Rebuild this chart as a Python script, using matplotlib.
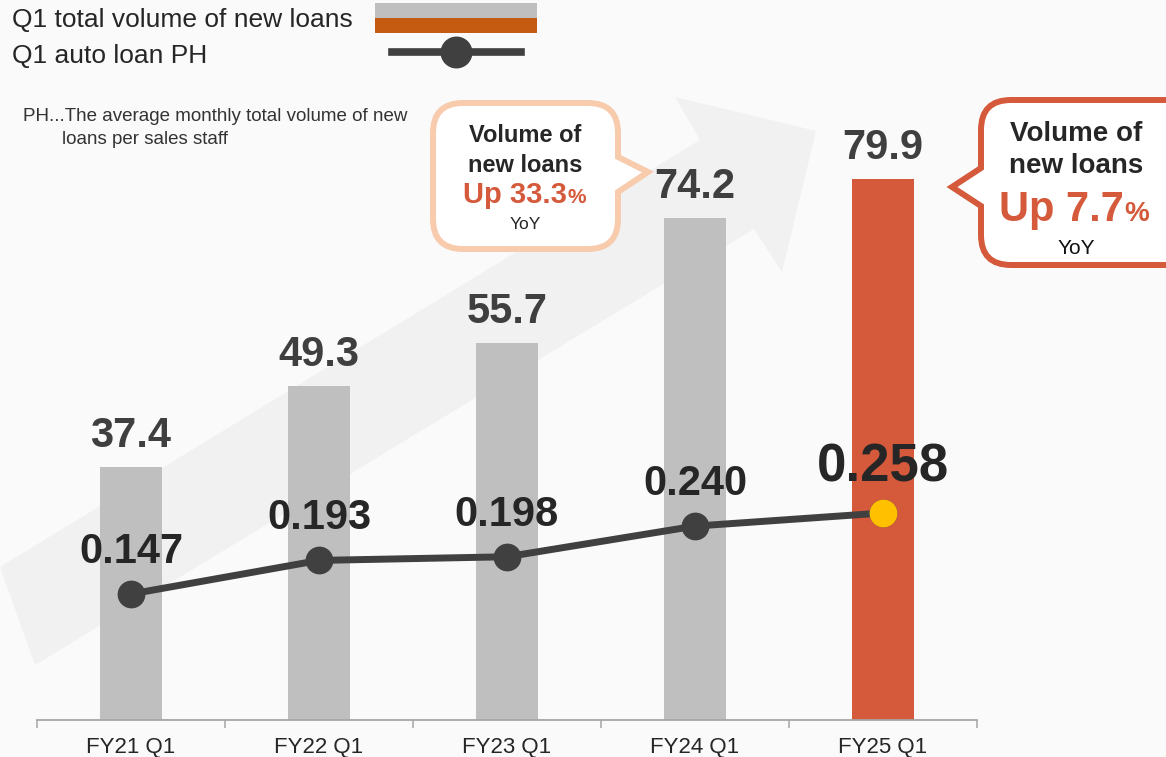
import numpy as np
import matplotlib
matplotlib.use("Agg")
import matplotlib.pyplot as plt
import matplotlib.transforms as mtransforms
from matplotlib.path import Path
from matplotlib.patches import PathPatch, Polygon, Rectangle
from matplotlib.lines import Line2D

plt.rcParams['font.family'] = ['Liberation Sans', 'DejaVu Sans']

# data
categories = ["FY21 Q1", "FY22 Q1", "FY23 Q1", "FY24 Q1", "FY25 Q1"]
loan_volume = [37.4, 49.3, 55.7, 74.2, 79.9]
volume_labels = ["37.4", "49.3", "55.7", "74.2", "79.9"]
auto_loan_ph = [0.147, 0.193, 0.198, 0.240, 0.258]
ph_labels = ["0.147", "0.193", "0.198", "0.240", "0.258"]

# styles
bar_colors = ["#bfbfbf"] * 4 + ["#d5593b"]
ph_label_sizes = [30, 30, 30, 30, 38]
dark = "#262626"

W, H = 1166, 757
fig = plt.figure(figsize=(W / 100, H / 100), dpi=100, facecolor="#fafafa")
# pixel coordinates, origin at top-left
pix = mtransforms.Affine2D().scale(1 / W, -1 / H).translate(0, 1) + fig.transFigure

# big light arrow in the background
arrow_pts = [(0, 567), (700, 140), (675, 97), (816, 131), (782, 272), (754, 229), (35, 665)]
fig.add_artist(Polygon(arrow_pts, closed=True, transform=pix, facecolor="#f1f1f1",
                       edgecolor="none", zorder=0))

x = np.arange(len(categories))

ax = fig.add_axes([37 / W, 37 / H, 940 / W, 720 / H])
ax.set_zorder(1)
ax.patch.set_visible(False)
ax.bar(x, loan_volume, width=0.33, color=bar_colors, zorder=2)
ax.set_xlim(-0.5, 4.5)
ax.set_ylim(0, 720 / 6.77)
for i, v in enumerate(loan_volume):
    ax.annotate(volume_labels[i], (i, v), xytext=(0, 14.5), textcoords="offset points",
                ha="center", va="baseline", fontsize=30, fontweight="bold", color="#3f3f3f")

for s in ["top", "left", "right"]:
    ax.spines[s].set_visible(False)
ax.spines["bottom"].set_color("#a6a6a6")
ax.spines["bottom"].set_linewidth(1.3)
ax.set_yticks([])
ax.set_xticks(np.arange(-0.5, 5, 1.0))
ax.set_xticklabels([])
ax.tick_params(axis="x", which="major", length=6, width=1.1, color="#a6a6a6")
ax.set_xticks(x, minor=True)
ax.set_xticklabels(categories, minor=True, fontsize=16, color=dark)
ax.tick_params(axis="x", which="minor", length=0, pad=12)

ax2 = ax.twinx()
ax2.set_zorder(2)
ax2.patch.set_visible(False)
ax2.plot(x, auto_loan_ph, color="#404040", lw=5, marker="o", ms=19,
         mfc="#404040", mec="#404040", zorder=3)
ax2.plot(x[-1:], auto_loan_ph[-1:], "o", ms=19, mfc="#ffc000", mec="#ffc000", zorder=4)
ax2.set_ylim(-0.0257, 0.961)
ax2.axis("off")
for i, v in enumerate(auto_loan_ph):
    ax2.annotate(ph_labels[i], (i, v), xytext=(0, 22.5), textcoords="offset points",
                 ha="center", va="baseline", fontsize=ph_label_sizes[i],
                 fontweight="bold", color=dark, zorder=5)


def callout(x0, y0, x1, y1, r, side, b1, b2, tip):
    verts = [(x0 + r, y0), (x1 - r, y0), (x1, y0), (x1, y0 + r)]
    codes = [Path.MOVETO, Path.LINETO, Path.CURVE3, Path.CURVE3]
    if side == "right":
        verts += [(x1, b1), tip, (x1, b2)]
        codes += [Path.LINETO] * 3
    verts += [(x1, y1 - r), (x1, y1), (x1 - r, y1), (x0 + r, y1), (x0, y1), (x0, y1 - r)]
    codes += [Path.LINETO, Path.CURVE3, Path.CURVE3, Path.LINETO, Path.CURVE3, Path.CURVE3]
    if side == "left":
        verts += [(x0, b2), tip, (x0, b1)]
        codes += [Path.LINETO] * 3
    verts += [(x0, y0 + r), (x0, y0), (x0 + r, y0), (x0 + r, y0)]
    codes += [Path.LINETO, Path.CURVE3, Path.CURVE3, Path.CLOSEPOLY]
    return Path(verts, codes)


fig.add_artist(PathPatch(callout(433, 103, 618, 249, 30, "right", 157, 192, (648, 172)),
                         transform=pix, facecolor="white", edgecolor="#f8cbad", lw=4.3,
                         joinstyle="miter", zorder=5))
fig.add_artist(PathPatch(callout(981, 100, 1200, 265, 30, "left", 168, 206, (952, 187)),
                         transform=pix, facecolor="white", edgecolor="#d5593b", lw=4.3,
                         joinstyle="miter", zorder=5))

red = "#d5593b"
# left callout text
fig.text(525, 142, "Volume of", transform=pix, ha="center", va="baseline", fontsize=17,
         fontweight="bold", color=dark, zorder=6)
fig.text(525, 172, "new loans", transform=pix, ha="center", va="baseline", fontsize=17,
         fontweight="bold", color=dark, zorder=6)
fig.text(567, 203, "Up 33.3", transform=pix, ha="right", va="baseline", fontsize=21,
         fontweight="bold", color=red, zorder=6)
fig.text(567, 203, "%", transform=pix, ha="left", va="baseline", fontsize=15,
         fontweight="bold", color=red, zorder=6)
fig.text(525, 229, "YoY", transform=pix, ha="center", va="baseline", fontsize=12.5,
         color=dark, zorder=6)
# right callout text
fig.text(1076, 141, "Volume of", transform=pix, ha="center", va="baseline", fontsize=20,
         fontweight="bold", color=dark, zorder=6)
fig.text(1076, 173, "new loans", transform=pix, ha="center", va="baseline", fontsize=20,
         fontweight="bold", color=dark, zorder=6)
fig.text(1124, 221, "Up 7.7", transform=pix, ha="right", va="baseline", fontsize=30,
         fontweight="bold", color=red, zorder=6)
fig.text(1124, 221, "%", transform=pix, ha="left", va="baseline", fontsize=20,
         fontweight="bold", color=red, zorder=6)
fig.text(1076, 254, "YoY", transform=pix, ha="center", va="baseline", fontsize=15,
         color="#111111", zorder=6)

# legend
fig.text(12, 27, "Q1 total volume of new loans", transform=pix, va="baseline",
         fontsize=19, color=dark)
fig.text(12, 63, "Q1 auto loan PH", transform=pix, va="baseline", fontsize=19, color=dark)
fig.add_artist(Rectangle((375, 3), 162, 15, transform=pix, facecolor="#bfbfbf",
                         edgecolor="none"))
fig.add_artist(Rectangle((375, 18), 162, 15, transform=pix, facecolor="#c55a11",
                         edgecolor="none"))
fig.add_artist(Line2D([392, 521], [52, 52], transform=pix, color="#404040", lw=5.5))
fig.add_artist(Line2D([456], [52], transform=pix, marker="o", ms=22, color="#404040"))

# footnote
fig.text(23, 121, "PH...The average monthly total volume of new", transform=pix,
         va="baseline", fontsize=13.5, color="#333333")
fig.text(62, 144, "loans per sales staff", transform=pix, va="baseline",
         fontsize=13.5, color="#333333")

fig.savefig("out.png", dpi=100, facecolor=fig.get_facecolor())
